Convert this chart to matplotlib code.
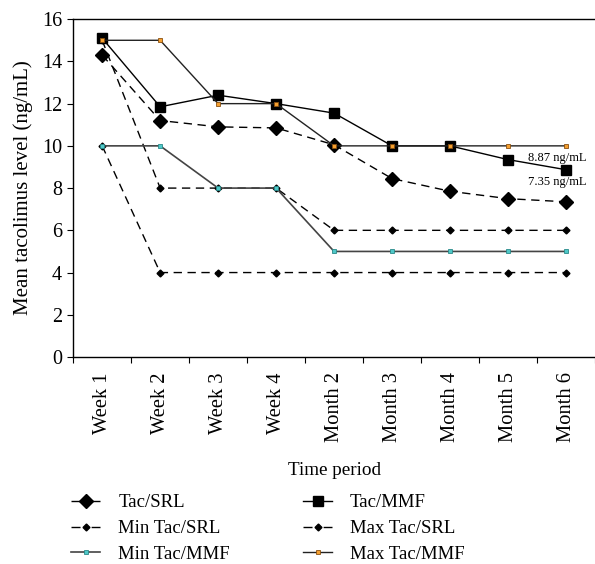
import numpy as np
import matplotlib.pyplot as plt
from matplotlib.ticker import FixedLocator, NullFormatter

plt.rcParams['font.family'] = ['Liberation Serif', 'DejaVu Serif']

periods = ['Week 1', 'Week 2', 'Week 3', 'Week 4', 'Month 2', 'Month 3', 'Month 4', 'Month 5', 'Month 6']
tac_srl = [14.3, 11.2, 10.9, 10.85, 10.05, 8.45, 7.85, 7.5, 7.35]
tac_mmf = [15.1, 11.85, 12.4, 12.0, 11.55, 10.0, 10.0, 9.35, 8.87]
min_srl = [10, 4, 4, 4, 4, 4, 4, 4, 4]
max_srl = [15, 8, 8, 8, 6, 6, 6, 6, 6]
min_mmf = [10, 10, 8, 8, 5, 5, 5, 5, 5]
max_mmf = [15, 15, 12, 12, 10, 10, 10, 10, 10]

x = np.arange(len(periods))

fig = plt.figure(figsize=(5.95, 5.64), dpi=100)
ax = fig.add_axes([0.123, 0.367, 0.877, 0.599])

dash = (0, (6, 4))
h1, = ax.plot(x, tac_srl, color='black', ls=dash, lw=1.0, marker='D', ms=7.5, label='Tac/SRL', zorder=4)
h2, = ax.plot(x, tac_mmf, color='black', ls='-', lw=1.0, marker='s', ms=7.5, label='Tac/MMF', zorder=4)
h3, = ax.plot(x, min_srl, color='black', ls=dash, lw=1.0, marker='D', ms=3.5, label='Min Tac/SRL', zorder=3)
h4, = ax.plot(x, max_srl, color='black', ls=dash, lw=1.0, marker='D', ms=3.5, label='Max Tac/SRL', zorder=3)
h5, = ax.plot(x, min_mmf, color='#444444', ls='-', lw=1.2, marker='s', ms=3.5,
              mfc='#4fc8c8', mec='#2a8a8a', mew=0.6, label='Min Tac/MMF', zorder=3)
h6, = ax.plot(x, max_mmf, color='#222222', ls='-', lw=1.0, marker='s', ms=3.5,
              mfc='#f5a030', mec='#8a5010', mew=0.6, label='Max Tac/MMF', zorder=5)

ax.text(x[-1] + 0.36, tac_mmf[-1] + 0.55, '8.87 ng/mL', fontsize=9, ha='right', va='center')
ax.text(x[-1] + 0.36, tac_srl[-1] + 0.95, '7.35 ng/mL', fontsize=9, ha='right', va='center')

ax.set_xlim(-0.5, len(periods) - 0.5)
ax.set_ylim(0, 16)
ax.set_yticks(range(0, 17, 2))
ax.xaxis.set_major_locator(FixedLocator(np.arange(-0.5, len(periods), 1.0)))
ax.xaxis.set_major_formatter(NullFormatter())
ax.set_xticks(x, minor=True)
ax.set_xticklabels(periods, minor=True, rotation=90, fontsize=14.8)
ax.tick_params(axis='x', which='minor', length=0, pad=11)
ax.tick_params(axis='x', which='major', direction='out', length=4)
ax.tick_params(axis='y', direction='out', length=4, labelsize=14.5, pad=4)

ax.spines['right'].set_visible(False)
for s in ['top', 'left', 'bottom']:
    ax.spines[s].set_linewidth(1.0)

ax.set_ylabel('Mean tacolimus level (ng/mL)', fontsize=15, labelpad=6)
ax.set_xlabel('Time period', fontsize=13.8, labelpad=14)

# row-major order as in the original legend
leg = fig.legend(handles=[h1, h3, h5, h2, h4, h6], loc='lower left', bbox_to_anchor=(0.107, -0.0115),
                 ncol=2, frameon=False, fontsize=13.5, handlelength=1.55, columnspacing=3.9,
                 labelspacing=0.46, handletextpad=0.96, borderaxespad=0.0)
# symmetric "- marker -" look for the dashed legend keys
for line in leg.get_lines():
    if line.get_linestyle() not in ('-', 'solid'):
        line.set_linestyle((0, (6.5, 2.5, 3, 2.5)))

fig.savefig('out.png', dpi=100)
